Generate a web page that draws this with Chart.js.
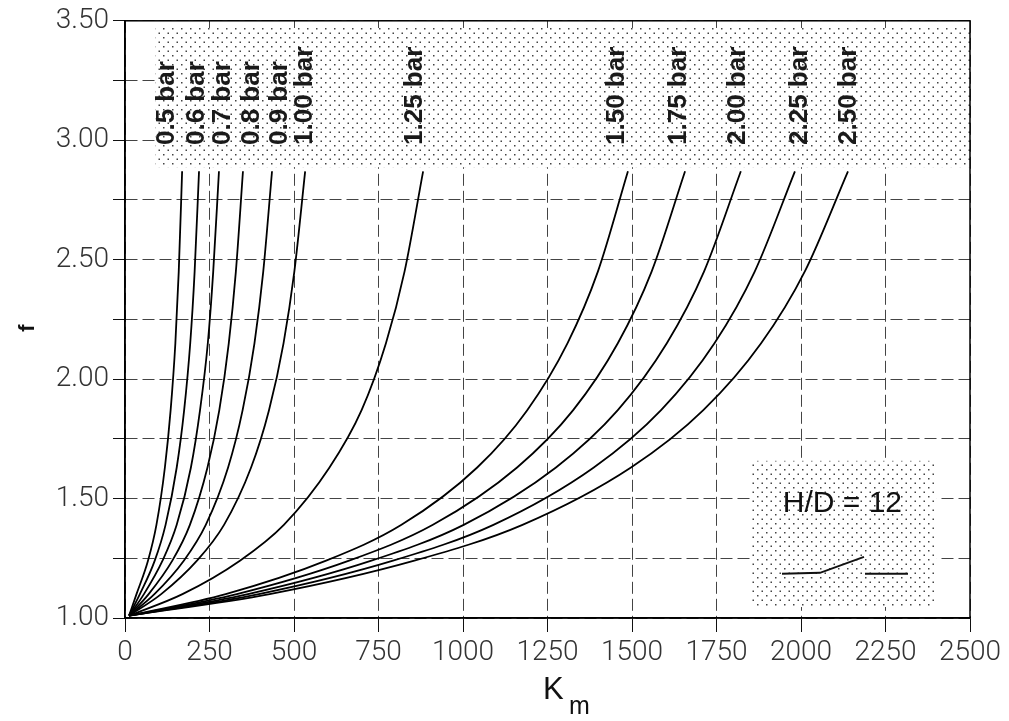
<!DOCTYPE html>
<html>
<head>
<meta charset="utf-8">
<script src="https://cdn.jsdelivr.net/npm/chart.js@4.4.0/dist/chart.umd.min.js"></script>
<style>
  html, body { margin: 0; padding: 0; background: #fff; }
  #wrap { width: 1009px; height: 721px; }
</style>
</head>
<body>
<div id="wrap"><canvas id="friction_chart" width="1009" height="721"></canvas></div>
<script>
// curve labels (pressure)
const pressures = ['0.5 bar', '0.6 bar', '0.7 bar', '0.8 bar', '0.9 bar', '1.00 bar',
                   '1.25 bar', '1.50 bar', '1.75 bar', '2.00 bar', '2.25 bar', '2.50 bar'];

const f_levels = [1.01, 1.10, 1.24, 1.39, 1.63, 1.87, 2.15, 2.45, 2.87];

// Km read at each f level, one list per curve
const km_0_5  = [12, 34, 68, 93, 118, 135, 149, 159, 169];
const km_0_6  = [12, 44, 88, 120, 153, 175, 193, 206, 219];
const km_0_7  = [12, 56, 111, 153, 195, 222, 245, 261, 278];
const km_0_8  = [12, 70, 140, 192, 244, 279, 307, 328, 349];
const km_0_9  = [12, 87, 174, 239, 305, 348, 383, 409, 435];
const km_1_00 = [12, 107, 213, 293, 373, 426, 469, 501, 533];
const km_1_25 = [12, 170, 340, 470, 605, 700, 772, 827, 882];
const km_1_50 = [12, 298, 595, 818, 1042, 1190, 1309, 1399, 1488];
const km_1_75 = [12, 331, 663, 911, 1160, 1326, 1458, 1558, 1657];
const km_2_00 = [12, 364, 729, 1002, 1275, 1458, 1603, 1713, 1822];
const km_2_25 = [12, 396, 793, 1090, 1387, 1586, 1744, 1863, 1982];
const km_2_50 = [12, 428, 856, 1176, 1497, 1711, 1882, 2011, 2139];

const all_km = [km_0_5, km_0_6, km_0_7, km_0_8, km_0_9, km_1_00,
                km_1_25, km_1_50, km_1_75, km_2_00, km_2_25, km_2_50];

// where each rotated label sits along the Km axis
const label_km = [124, 213, 290, 376, 459, 533, 858, 1456, 1639, 1814, 1997, 2142];

const x_ticks_step = 250;
const y_ticks_step = 0.25;

// build datasets
const datasets = [];
for (var i = 0; i < all_km.length; i++) {
    const pts = [];
    for (var j = 0; j < f_levels.length; j++) {
        pts.push({ x: all_km[i][j], y: f_levels[j] });
    }
    datasets.push({
        label: pressures[i],
        data: pts,
        showLine: true,
        borderColor: '#000',
        borderWidth: 1.8,
        pointRadius: 0,
        cubicInterpolationMode: 'monotone',
        fill: false
    });
}

function dotPattern(ctx) {
    const tile = document.createElement('canvas');
    tile.width = 9; tile.height = 9;
    const t = tile.getContext('2d');
    t.fillStyle = '#fff';
    t.fillRect(0, 0, 9, 9);
    t.fillStyle = '#444';
    t.fillRect(1, 1, 1.5, 1.5);
    t.fillRect(5.5, 5.5, 1.5, 1.5);
    return ctx.createPattern(tile, 'repeat');
}

// dotted boxes, labels, frame and titles
const decorations = {
    id: 'decorations',
    beforeDatasetsDraw(chart) {
        const ctx = chart.ctx;
        const xs = chart.scales.x, ys = chart.scales.y;
        const area = chart.chartArea;
        const pat = dotPattern(ctx);
        ctx.save();

        // top label strip
        const bx1 = xs.getPixelForValue(90), by1 = ys.getPixelForValue(3.47);
        const by2 = ys.getPixelForValue(2.887);
        ctx.fillStyle = pat;
        ctx.fillRect(bx1, by1, area.right - bx1, by2 - by1);

        // H/D inset
        const ix1 = xs.getPixelForValue(1855), ix2 = xs.getPixelForValue(2402);
        const iy1 = ys.getPixelForValue(1.658), iy2 = ys.getPixelForValue(1.046);
        ctx.fillRect(ix1, iy1, ix2 - ix1, iy2 - iy1);

        ctx.fillStyle = '#111';
        ctx.font = '30px "Liberation Sans", Arial, sans-serif';
        ctx.textAlign = 'center';
        ctx.textBaseline = 'middle';
        ctx.fillText('H/D = 12', (ix1 + ix2) / 2 - 2, iy1 + 43);

        // switch symbol
        ctx.strokeStyle = '#111';
        ctx.lineWidth = 2;
        ctx.beginPath();
        ctx.moveTo(ix1 + 30, iy1 + 113);
        ctx.lineTo(ix1 + 68, iy1 + 112);
        ctx.lineTo(ix1 + 112, iy1 + 96);
        ctx.moveTo(ix1 + 113, iy1 + 113);
        ctx.lineTo(ix1 + 156, iy1 + 113);
        ctx.stroke();

        // rotated pressure labels
        ctx.font = 'bold 26px "Liberation Sans", Arial, sans-serif';
        ctx.fillStyle = '#1a1a1a';
        ctx.textAlign = 'left';
        ctx.textBaseline = 'middle';
        const ly = ys.getPixelForValue(2.98);
        for (var k = 0; k < pressures.length; k++) {
            ctx.save();
            ctx.translate(xs.getPixelForValue(label_km[k]), ly);
            ctx.rotate(-Math.PI / 2);
            ctx.fillText(pressures[k], 0, 0);
            ctx.restore();
        }
        ctx.restore();
    },
    afterDraw(chart) {
        const ctx = chart.ctx;
        const area = chart.chartArea;
        ctx.save();
        ctx.strokeStyle = '#000';
        ctx.lineWidth = 1.5;
        ctx.strokeRect(area.left, area.top, area.right - area.left, area.bottom - area.top);

        // axis titles
        ctx.fillStyle = '#111';
        ctx.textBaseline = 'alphabetic';
        ctx.textAlign = 'left';
        ctx.font = '31px "Liberation Sans", Arial, sans-serif';
        ctx.fillText('K', 543, 699);
        ctx.font = '25px "Liberation Sans", Arial, sans-serif';
        ctx.fillText('m', 569, 714);

        ctx.save();
        ctx.translate(28, 328);
        ctx.rotate(-Math.PI / 2);
        ctx.font = 'bold 22px "Liberation Sans", Arial, sans-serif';
        ctx.textAlign = 'center';
        ctx.textBaseline = 'middle';
        ctx.fillText('f', 0, 0);
        ctx.restore();
        ctx.restore();
    }
};

const tick_font = { family: 'Roboto, "DejaVu Sans", sans-serif', weight: '300' };

var canvas = document.getElementById('friction_chart');
var chart = new Chart(canvas, {
    type: 'scatter',
    data: { datasets: datasets },
    options: {
        responsive: false,
        animation: false,
        layout: { padding: { top: 18, right: 39, left: 0, bottom: 0 } },
        plugins: { legend: { display: false }, tooltip: { enabled: false } },
        scales: {
            x: {
                type: 'linear',
                min: 0,
                max: 2500,
                afterFit: function (scale) { scale.height = 103; },
                ticks: {
                    stepSize: x_ticks_step,
                    autoSkip: false,
                    maxRotation: 0,
                    padding: 4,
                    color: '#333',
                    font: Object.assign({ size: 28 }, tick_font),
                    callback: function (v) { return String(v); }
                },
                grid: {
                    color: '#444',
                    lineWidth: 1,
                    tickLength: 14,
                    tickColor: '#111',
                    tickBorderDash: []
                },
                border: { display: true, color: '#000', width: 1.5, dash: [12, 5] }
            },
            y: {
                type: 'linear',
                min: 1,
                max: 3.5,
                afterFit: function (scale) { scale.width = 125; },
                ticks: {
                    stepSize: y_ticks_step,
                    autoSkip: false,
                    padding: 4,
                    color: '#333',
                    font: Object.assign({ size: 28 }, tick_font),
                    callback: function (v) {
                        return Math.abs(v * 2 - Math.round(v * 2)) < 1e-6 ? v.toFixed(2) : '';
                    }
                },
                grid: {
                    color: '#444',
                    lineWidth: 1,
                    tickLength: 12,
                    tickColor: '#111',
                    tickBorderDash: []
                },
                border: { display: true, color: '#000', width: 1.5, dash: [12, 5] }
            }
        }
    },
    plugins: [decorations]
});
</script>
</body>
</html>
